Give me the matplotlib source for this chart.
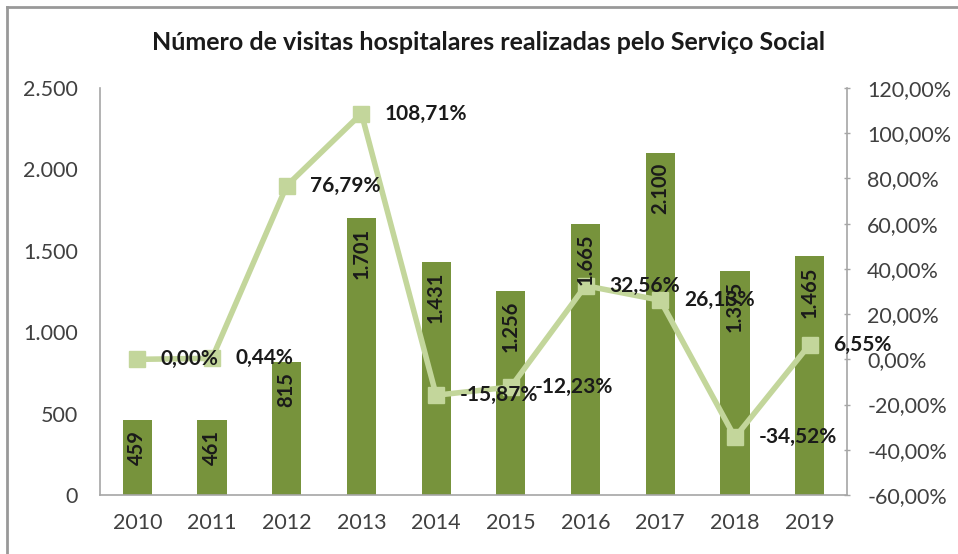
import matplotlib
matplotlib.use("Agg")
import matplotlib.pyplot as plt
from matplotlib.lines import Line2D
from matplotlib.ticker import FuncFormatter

plt.rcParams['font.family'] = ['Lato', 'DejaVu Sans']

years = ['2010', '2011', '2012', '2013', '2014', '2015', '2016', '2017', '2018', '2019']
visits = [459, 461, 815, 1701, 1431, 1256, 1665, 2100, 1375, 1465]
growth = [0.00, 0.44, 76.79, 108.71, -15.87, -12.23, 32.56, 26.13, -34.52, 6.55]
title = 'Número de visitas hospitalares realizadas pelo Serviço Social'

bar_color = '#77933c'
line_color = '#c3d69b'
axis_color = '#a6a6a6'
text_color = '#404040'

def thousands(v, pos=None):
    return f'{int(round(v)):,}'.replace(',', '.')

def pct(v, pos=None):
    return f'{v:.2f}%'.replace('.', ',')

fig = plt.figure(figsize=(9.58, 5.54), dpi=100)
ax = fig.add_axes([100/958, 1 - 495/554, 747/958, 407/554])
ax2 = ax.twinx()

x = list(range(len(years)))
bars = ax.bar(x, visits, width=0.39, color=bar_color, zorder=2)
ax.set_xlim(-0.5, len(years) - 0.5)
ax.set_ylim(0, 2500)
ax.set_yticks([0, 500, 1000, 1500, 2000, 2500])
ax.yaxis.set_major_formatter(FuncFormatter(thousands))
ax.set_xticks(x)
ax.set_xticklabels(years)
ax.tick_params(axis='x', length=0, pad=13, labelsize=15.5, colors=text_color)
ax.tick_params(axis='y', length=0, pad=16, labelsize=15.5, colors=text_color)
for s in ['top', 'right']:
    ax.spines[s].set_visible(False)
for s in ['left', 'bottom']:
    ax.spines[s].set_color(axis_color)
    ax.spines[s].set_linewidth(1.2)

ax2.plot(x, growth, color=line_color, linewidth=4, marker='s', markersize=11,
         markerfacecolor=line_color, markeredgecolor=line_color, zorder=3)
ax2.set_ylim(-60, 120)
ax2.set_yticks(range(-60, 121, 20))
ax2.yaxis.set_major_formatter(FuncFormatter(pct))
ax2.tick_params(axis='y', direction='inout', length=5, width=1, color=axis_color,
                pad=12, labelsize=15.5, labelcolor=text_color)
for s in ['top', 'left', 'bottom']:
    ax2.spines[s].set_visible(False)
ax2.spines['right'].set_color(axis_color)
ax2.spines['right'].set_linewidth(1.2)

# bar value labels drawn on top of everything
for xi, v in zip(x, visits):
    ax2.annotate(thousands(v), (xi, v), xycoords=ax.transData, xytext=(0, -7),
                 textcoords='offset points', rotation=90, ha='center', va='top',
                 fontsize=14.5, fontweight='bold', color='#1a1a1a', zorder=5)

for xi, g in zip(x, growth):
    ax2.annotate(pct(g), (xi, g), xytext=(17, 0), textcoords='offset points',
                 ha='left', va='center', fontsize=15, fontweight='bold',
                 color='#1a1a1a', zorder=5)

fig.text(489/958, 1 - 42/554, title, ha='center', va='center', fontsize=18,
         fontweight='bold', color='#1a1a1a')

fig.add_artist(Line2D([7/958, 7/958], [0, 1 - 7/554], transform=fig.transFigure,
                      color='#999999', linewidth=2))
fig.add_artist(Line2D([7/958, 1], [1 - 7/554, 1 - 7/554], transform=fig.transFigure,
                      color='#999999', linewidth=2))

fig.savefig('out.png', dpi=100)
